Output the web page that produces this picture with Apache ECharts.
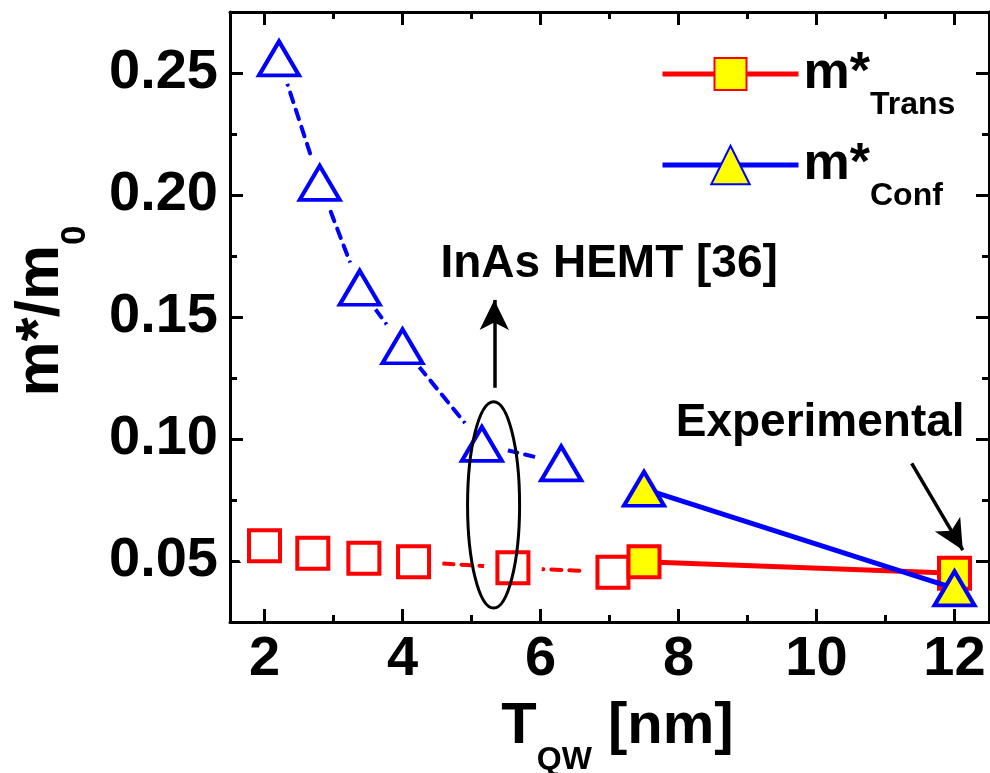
<!DOCTYPE html>
<html>
<head>
<meta charset="utf-8">
<script src="https://cdn.jsdelivr.net/npm/echarts@6/dist/echarts.min.js"></script>
<style>
  html, body { margin: 0; padding: 0; background: #fff; }
  #chart { width: 990px; height: 773px; }
</style>
</head>
<body>
<div id="chart"></div>
<script>
// Quantum-well thickness T_QW [nm] and effective masses m*/m0
const calcTransT = [2.0, 2.7, 3.44, 4.16, 5.6, 7.05];
const calcTrans  = [0.0562, 0.0532, 0.0511, 0.0497, 0.0472, 0.0454];
const calcConfT  = [2.21, 2.8, 3.38, 4.0, 5.15, 6.3];
const calcConf   = [0.256, 0.205, 0.162, 0.138, 0.098, 0.090];
const expT       = [7.5, 12];
const expTrans   = [0.0497, 0.045];
const expConf    = [0.0796, 0.0388];

// Axis ranges and tick values
const xRange  = [1.5, 12.5];
const yRange  = [0.025, 0.275];
const xMajor  = [2, 4, 6, 8, 10, 12];
const xMinor  = [3, 5, 7, 9, 11];
const yMajor  = [0.05, 0.10, 0.15, 0.20, 0.25];
const yMinor  = [0.075, 0.125, 0.175, 0.225];

const FONT = '"Liberation Sans", Arial, Helvetica, sans-serif';
const RED = '#ff0000', BLUE = '#0000ff', YELLOW = '#ffff00';

const pairs = (xs, ys) => xs.map((x, i) => [x, ys[i]]);

function axis(dim, position, values, len, main, extra) {
  const range = dim === 'x' ? xRange : yRange;
  return Object.assign({
    type: 'value',
    position: position,
    min: range[0],
    max: range[1],
    axisLine: { show: main, onZero: false, lineStyle: { color: '#000', width: 3 } },
    axisTick: { show: true, inside: true, length: len, customValues: values,
                lineStyle: { color: '#000', width: 3 } },
    axisLabel: { show: false },
    splitLine: { show: false }
  }, extra || {});
}

const tickLabel = {
  show: true, color: '#000', fontFamily: FONT, fontWeight: 'bold', fontSize: 56
};

function legendText() {
  return {
    padding: [0, 0, 0, 0],
    rich: {
      m: { fontFamily: FONT, fontWeight: 'bold', fontSize: 52, lineHeight: 52, verticalAlign: 'top', color: '#000' },
      s: { fontFamily: FONT, fontWeight: 'bold', fontSize: 32, lineHeight: 32, verticalAlign: 'top', padding: [41, 0, 0, 0], color: '#000' }
    }
  };
}

const option = {
  animation: false,
  backgroundColor: '#fff',
  grid: { left: 230, right: 1, top: 12, bottom: 151, containLabel: false, outerBoundsMode: 'none' },
  xAxis: [
    axis('x', 'bottom', xMajor, 13, true, {
      axisLabel: Object.assign({}, tickLabel, { customValues: xMajor, margin: 10,
        formatter: v => String(v) }),
      name: '{a|T}{b|QW}{a| [nm]}',
      nameLocation: 'middle',
      nameGap: 76,
      nameTextStyle: {
        color: '#000', fontFamily: FONT, fontWeight: 'bold', padding: [0, 0, 0, 16],
        rich: {
          a: { fontFamily: FONT, fontWeight: 'bold', fontSize: 58, lineHeight: 58, verticalAlign: 'top' },
          b: { fontFamily: FONT, fontWeight: 'bold', fontSize: 32, lineHeight: 32, verticalAlign: 'top', padding: [46, 0, 0, 0] }
        }
      }
    }),
    axis('x', 'bottom', xMinor, 7, false),
    axis('x', 'top', xMajor, 13, true),
    axis('x', 'top', xMinor, 7, false)
  ],
  yAxis: [
    axis('y', 'left', yMajor, 13, true, {
      axisLabel: Object.assign({}, tickLabel, { customValues: yMajor, margin: 12,
        formatter: v => v.toFixed(2) }),
      name: '{a|m*/m}{b|0}',
      nameLocation: 'middle',
      nameRotate: 90,
      nameGap: 158,
      nameTextStyle: {
        color: '#000', fontFamily: FONT, fontWeight: 'bold', padding: [0, 0, 0, 12],
        rich: {
          a: { fontFamily: FONT, fontWeight: 'bold', fontSize: 62, lineHeight: 62, verticalAlign: 'top' },
          b: { fontFamily: FONT, fontWeight: 'bold', fontSize: 35, lineHeight: 35, verticalAlign: 'top', padding: [48, 0, 0, 0] }
        }
      }
    }),
    axis('y', 'left', yMinor, 7, false),
    axis('y', 'right', yMajor, 13, true),
    axis('y', 'right', yMinor, 7, false)
  ],
  legend: [
    {
      data: ['trans'], left: 655, top: 43, orient: 'vertical',
      itemWidth: 136, itemHeight: 40, selectedMode: false,
      lineStyle: { width: 5 },
      formatter: () => '{m|m*}{s|Trans}',
      textStyle: legendText()
    },
    {
      data: ['conf'], left: 655, top: 134, orient: 'vertical',
      itemWidth: 136, itemHeight: 48, selectedMode: false,
      lineStyle: { width: 5 },
      formatter: () => '{m|m*}{s|Conf}',
      textStyle: legendText()
    }
  ],
  series: [
    // dashed guides for the calculated masses; white discs keep the dashes clear of the markers
    {
      name: 'transCalcLine', type: 'line', data: pairs(calcTransT, calcTrans), z: 2,
      symbol: 'circle', symbolSize: 58, showAllSymbol: true,
      itemStyle: { color: '#fff', borderWidth: 0, opacity: 1 },
      lineStyle: { color: RED, width: 4, type: [10, 8], cap: 'round' },
      emphasis: { disabled: true }, silent: true
    },
    {
      name: 'confCalcLine', type: 'line', data: pairs(calcConfT, calcConf), z: 2,
      symbol: 'circle', symbolSize: 54, showAllSymbol: true,
      itemStyle: { color: '#fff', borderWidth: 0, opacity: 1 },
      lineStyle: { color: BLUE, width: 4, type: [10, 8], cap: 'round' },
      emphasis: { disabled: true }, silent: true
    },
    {
      name: 'transCalc', type: 'scatter', data: pairs(calcTransT, calcTrans), z: 3,
      symbol: 'rect', symbolSize: 31,
      itemStyle: { color: '#fff', borderColor: RED, borderWidth: 4, opacity: 1 },
      emphasis: { disabled: true }, silent: true
    },
    {
      name: 'confCalc', type: 'scatter', data: pairs(calcConfT, calcConf), z: 3,
      symbol: 'triangle', symbolSize: [40, 34],
      itemStyle: { color: '#fff', borderColor: BLUE, borderWidth: 4, opacity: 1 },
      emphasis: { disabled: true }, silent: true
    },
    {
      name: 'trans', type: 'line', data: pairs(expT, expTrans), z: 4,
      symbol: 'rect', symbolSize: 31,
      lineStyle: { color: RED, width: 5 },
      itemStyle: { color: YELLOW, borderColor: RED, borderWidth: 4, opacity: 1 },
      emphasis: { disabled: true }, silent: true
    },
    {
      name: 'conf', type: 'line', data: pairs(expT, expConf), z: 5,
      symbol: 'triangle', symbolSize: [40, 34],
      lineStyle: { color: BLUE, width: 5 },
      itemStyle: { color: YELLOW, borderColor: BLUE, borderWidth: 4, opacity: 1 },
      emphasis: { disabled: true }, silent: true,
      markLine: {
        silent: true, symbol: ['none', 'arrow'], symbolSize: [22, 30],
        lineStyle: { color: '#000', width: 3.5, type: 'solid' },
        label: { show: false }, emphasis: { disabled: true },
        data: [
          [{ coord: [5.33, 0.121] }, { coord: [5.33, 0.157] }],
          [{ coord: [11.38, 0.090] }, { coord: [12.12, 0.0545] }]
        ]
      }
    }
  ]
};

const chart = echarts.init(document.getElementById('chart'), null, { renderer: 'canvas' });
chart.setOption(option);

// Annotations placed in data units
const toPx = p => chart.convertToPixel({ gridIndex: 0 }, p);
const ellC = toPx([5.32, 0.073]);
const ellE = toPx([5.32 + 0.377, 0.073 + 0.0423]);
const inasPos = toPx([4.55, 0.165]);
const expPos = toPx([7.96, 0.100]);

chart.setOption({
  graphic: [
    {
      type: 'ellipse', z: 100, silent: true,
      shape: { cx: ellC[0], cy: ellC[1], rx: ellE[0] - ellC[0], ry: ellC[1] - ellE[1] },
      style: { fill: null, stroke: '#000', lineWidth: 3 }
    },
    {
      type: 'text', z: 100, silent: true, x: inasPos[0], y: inasPos[1] + 7,
      style: { text: 'InAs HEMT [36]', font: 'bold 46px ' + FONT, fill: '#000',
               align: 'left', verticalAlign: 'bottom' }
    },
    {
      type: 'text', z: 100, silent: true, x: expPos[0], y: expPos[1] + 7,
      style: { text: 'Experimental', font: 'bold 46px ' + FONT, fill: '#000',
               align: 'left', verticalAlign: 'bottom' }
    }
  ]
});
</script>
</body>
</html>
